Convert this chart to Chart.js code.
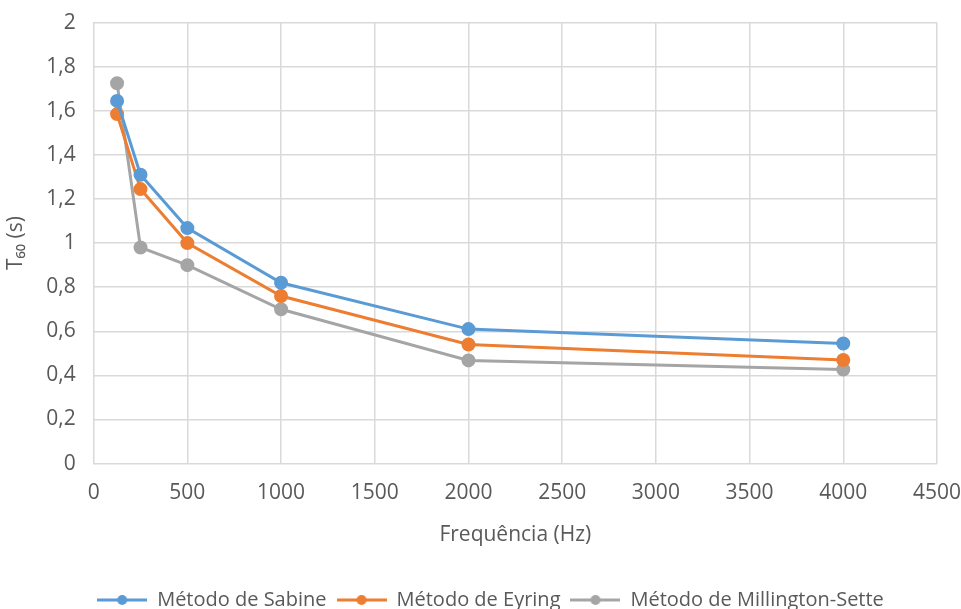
<!DOCTYPE html>
<html>
<head>
<meta charset="utf-8">
<script src="https://cdn.jsdelivr.net/npm/chart.js@4"></script>
<style>
  body { margin: 0; background: #fff; overflow: hidden; }
  #t60Chart { display: block; margin-top: -8px; }
</style>
</head>
<body>
<canvas id="t60Chart" width="978" height="617"></canvas>
<script>
const frequencies = [125, 250, 500, 1000, 2000, 4000];
const sabine = [1.645, 1.31, 1.068, 0.82, 0.61, 0.545];
const eyring = [1.585, 1.245, 1.0, 0.76, 0.54, 0.47];
const millington = [1.725, 0.98, 0.9, 0.70, 0.468, 0.427];
const seriesNames = ['Método de Sabine', 'Método de Eyring', 'Método de Millington-Sette'];
const colors = ['#5b9bd5', '#ed7d31', '#a5a5a5'];

function legendIcon(color) {
    const c = document.createElement('canvas');
    c.width = 50; c.height = 14;
    const g = c.getContext('2d');
    g.strokeStyle = color;
    g.lineWidth = 3;
    g.beginPath(); g.moveTo(0, 7); g.lineTo(50, 7); g.stroke();
    g.fillStyle = color;
    g.beginPath(); g.arc(25, 7, 5, 0, Math.PI * 2); g.fill();
    return c;
}

function makeSeries(i, values) {
    return {
        label: seriesNames[i],
        data: frequencies.map((f, k) => ({x: f, y: values[k]})),
        borderColor: colors[i],
        backgroundColor: colors[i],
        borderWidth: 3,
        pointRadius: 5.5,
        pointHoverRadius: 5.5,
        tension: 0
    };
}

const font = {family: 'Open Sans', size: 21};
const legendFont = {family: 'Open Sans', size: 20};
const grey = '#595959';

new Chart(document.getElementById('t60Chart').getContext('2d'), {
    type: 'line',
    data: {
        datasets: [makeSeries(0, sabine), makeSeries(1, eyring), makeSeries(2, millington)]
    },
    options: {
        responsive: false,
        animation: false,
        layout: {padding: {left: 3, right: 0, top: 0, bottom: -11}},
        scales: {
            x: {
                type: 'linear',
                min: 0, max: 4500,
                ticks: {stepSize: 500, color: grey, font: font, padding: 17, callback: v => String(v)},
                grid: {color: '#d9d9d9', lineWidth: 1.5, drawTicks: false},
                border: {color: '#d9d9d9'},
                title: {display: true, text: 'Frequência (Hz)', color: grey, font: font, padding: {top: 0, bottom: 32}}
            },
            y: {
                min: 0, max: 2,
                ticks: {
                    stepSize: 0.2, color: grey, font: font, padding: 18,
                    callback: v => String(Math.round(v * 10) / 10).replace('.', ',')
                },
                grid: {color: '#d9d9d9', lineWidth: 1.5, drawTicks: false},
                border: {color: '#d9d9d9'},
                title: {display: true, text: 'T₆₀ (s)', color: grey, font: font, padding: 0}
            }
        },
        plugins: {
            tooltip: {enabled: false},
            legend: {
                position: 'bottom',
                labels: {
                    color: grey,
                    font: legendFont,
                    usePointStyle: true,
                    pointStyleWidth: 50,
                    padding: 10,
                    generateLabels: chart => chart.data.datasets.map((ds, i) => ({
                        text: ds.label,
                        pointStyle: legendIcon(ds.borderColor),
                        fontColor: grey,
                        datasetIndex: i,
                        lineWidth: 0
                    }))
                }
            }
        }
    }
});
</script>
</body>
</html>
